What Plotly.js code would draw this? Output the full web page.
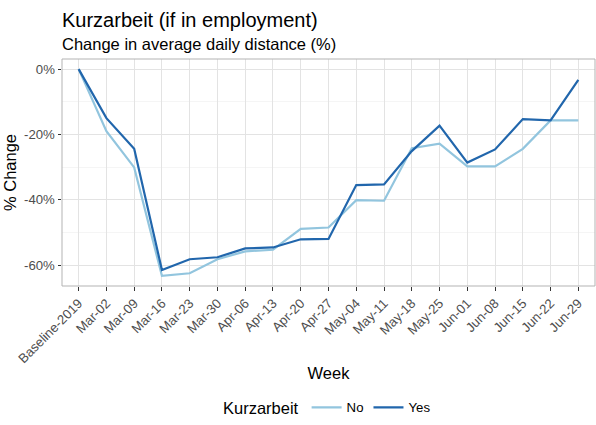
<!DOCTYPE html>
<html>
<head>
<meta charset="utf-8">
<script src="https://cdn.plot.ly/plotly-3.0.1.min.js"></script>
<style>html,body{margin:0;padding:0;background:#fff}#chart{width:596px;height:425px}</style>
</head>
<body>
<div id="chart"></div>
<script>
var weeks = ["Baseline-2019","Mar-02","Mar-09","Mar-16","Mar-23","Mar-30","Apr-06","Apr-13","Apr-20","Apr-27","May-04","May-11","May-18","May-25","Jun-01","Jun-08","Jun-15","Jun-22","Jun-29"];
var noValues  = [0,-19.0,-30.1,-63.3,-62.5,-58.2,-55.8,-55.3,-48.9,-48.5,-40.1,-40.3,-24.2,-22.8,-29.8,-29.8,-24.4,-15.7,-15.7];
var yesValues = [0,-15.0,-24.4,-61.5,-58.2,-57.6,-54.9,-54.6,-52.1,-52.0,-35.5,-35.3,-25.1,-17.3,-28.6,-24.6,-15.3,-15.7,-3.3];
var yTickVals = [-60,-40,-20,0];
var yTickText = ["-60%","-40%","-20%","0%"];
var yMinorVals = [-50,-30,-10];

var font = "Liberation Sans, Arial, sans-serif";
var traces = [
  {x: weeks, y: noValues, type: "scatter", mode: "lines", name: "No",
   line: {color: "#92c5de", width: 2.2}},
  {x: weeks, y: yesValues, type: "scatter", mode: "lines", name: "Yes",
   line: {color: "#2166ac", width: 2.2}}
];
var layout = {
  width: 596, height: 425,
  margin: {l: 61.5, r: 1, t: 58.7, b: 137.3},
  paper_bgcolor: "#fff", plot_bgcolor: "#fff",
  font: {family: font, color: "#000"},
  title: {text: "Kurzarbeit (if in employment)", font: {family: font, size: 20, color: "#000"},
          xref: "container", x: 62/596, xanchor: "left", yref: "container", y: 1 - 19.5/425, yanchor: "middle"},
  annotations: [
    {text: "Change in average daily distance (%)", xref: "paper", x: 0, xanchor: "left", xshift: -2,
     yref: "paper", y: 1 + (58.7-44)/229, yanchor: "middle", showarrow: false,
     font: {family: font, size: 16.5, color: "#000"}}
  ],
  xaxis: {
    type: "category", range: [-0.6, 18.6], tickangle: -45,
    showgrid: true, gridcolor: "#e3e3e3", gridwidth: 1,
    ticks: "outside", ticklen: 3.5, tickcolor: "#333", tickwidth: 1,
    tickfont: {family: font, size: 13.2, color: "#4d4d4d"},
    showline: false, zeroline: false,
    title: {text: "Week", font: {family: font, size: 16.5, color: "#000"}, standoff: 2}
  },
  yaxis: {
    range: [-66.4, 3.1], tickvals: yTickVals, ticktext: yTickText,
    showgrid: true, gridcolor: "#e3e3e3", gridwidth: 1,
    minor: {tickvals: yMinorVals, showgrid: true, gridcolor: "#efefef", gridwidth: 0.6, ticks: ""},
    ticks: "outside", ticklen: 3.5, tickcolor: "#333", tickwidth: 1,
    tickfont: {family: font, size: 13.2, color: "#4d4d4d"},
    showline: false, zeroline: false,
    title: {text: "% Change", font: {family: font, size: 16.5, color: "#000"}, standoff: 3}
  },
  shapes: [
    {type: "rect", xref: "paper", yref: "paper", x0: 0, x1: 1, y0: 0, y1: 1,
     line: {color: "#b3b3b3", width: 1}, fillcolor: "rgba(0,0,0,0)", layer: "above"}
  ],
  showlegend: true,
  legend: {orientation: "h", x: 0.5, xanchor: "center", y: (287.7-411)/229, yanchor: "middle",
           title: {text: "Kurzarbeit", side: "left", font: {family: font, size: 16.5, color: "#000"}},
           font: {family: font, size: 13.2, color: "#000"}, itemwidth: 30, tracegroupgap: 0}
};
Plotly.newPlot("chart", traces, layout, {displayModeBar: false, staticPlot: true});
</script>
</body>
</html>
